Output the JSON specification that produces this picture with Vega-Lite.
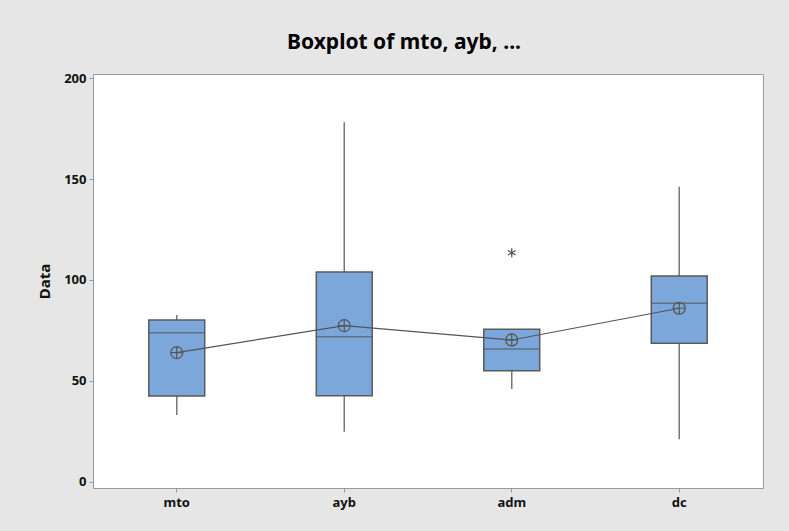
{
  "$schema": "https://vega.github.io/schema/vega-lite/v6.json",
  "width": 670,
  "height": 414,
  "autosize": {"type": "none"},
  "padding": {"left": 93, "top": 74, "right": 26, "bottom": 43},
  "background": "#e6e6e6",
  "config": {
    "font": "Noto Sans",
    "view": {"fill": "white", "stroke": "#9a9a9a", "strokeWidth": 1},
    "axis": {
      "domain": false,
      "grid": false,
      "tickColor": "#9a9a9a",
      "tickSize": 4,
      "labelFont": "Noto Sans",
      "labelFontSize": 13,
      "labelFontWeight": "bold",
      "labelColor": "#111111",
      "titleFont": "Noto Sans",
      "titleFontSize": 15,
      "titleFontWeight": "bold",
      "titleColor": "#111111"
    },
    "axisX": {"labelAngle": 0, "labelPadding": 4},
    "axisY": {"labelPadding": 3, "titlePadding": 11}
  },
  "title": {
    "text": "Boxplot of mto, ayb, ...",
    "font": "Noto Sans",
    "fontSize": 21,
    "fontWeight": "bold",
    "color": "#000000",
    "anchor": "middle",
    "dx": -24,
    "offset": 19
  },
  "datasets": {
    "stats": [
      {"group": "mto", "lo": 33.2, "q1": 42.6, "med": 73.9, "q3": 80.2, "hi": 82.7, "mean": 64.0},
      {"group": "ayb", "lo": 24.9, "q1": 42.7, "med": 71.9, "q3": 104.0, "hi": 178.1, "mean": 77.4},
      {"group": "adm", "lo": 46.0, "q1": 55.0, "med": 65.8, "q3": 75.6, "hi": 75.6, "mean": 70.3},
      {"group": "dc", "lo": 21.1, "q1": 68.7, "med": 88.5, "q3": 102.0, "hi": 146.2, "mean": 86.0}
    ],
    "outliers": [
      {"group": "adm", "value": 113.5}
    ]
  },
  "data": {"name": "stats"},
  "encoding": {
    "x": {
      "field": "group",
      "type": "nominal",
      "sort": ["mto", "ayb", "adm", "dc"],
      "scale": {"type": "band", "paddingInner": 0, "paddingOuter": 0},
      "title": null
    }
  },
  "layer": [
    {
      "mark": {"type": "rule", "color": "#777777", "strokeWidth": 1.5},
      "encoding": {
        "y": {"field": "lo", "type": "quantitative", "title": "Data", "scale": {"domain": [-3, 202], "nice": false, "zero": false}, "axis": {"values": [0, 50, 100, 150, 200]}},
        "y2": {"field": "q1"}
      }
    },
    {
      "mark": {"type": "rule", "color": "#777777", "strokeWidth": 1.5},
      "encoding": {
        "y": {"field": "q3", "type": "quantitative", "title": "Data"},
        "y2": {"field": "hi"}
      }
    },
    {
      "mark": {"type": "bar", "fill": "#7ba7db", "stroke": "#5a5a5a", "strokeWidth": 1.5, "width": {"band": 0.334}},
      "encoding": {
        "y": {"field": "q1", "type": "quantitative", "title": "Data"},
        "y2": {"field": "q3"}
      }
    },
    {
      "mark": {"type": "tick", "color": "#5a5a5a", "thickness": 1.5, "size": 56},
      "encoding": {
        "y": {"field": "med", "type": "quantitative", "title": "Data"}
      }
    },
    {
      "mark": {"type": "line", "color": "#555555", "strokeWidth": 1.2},
      "encoding": {
        "y": {"field": "mean", "type": "quantitative", "title": "Data"}
      }
    },
    {
      "mark": {"type": "point", "shape": "M-1,0A1,1,0,1,1,1,0A1,1,0,1,1,-1,0ZM-1,0L1,0M0,-1L0,1", "filled": false, "stroke": "#555555", "strokeWidth": 1.2, "size": 144, "opacity": 1},
      "encoding": {
        "y": {"field": "mean", "type": "quantitative", "title": "Data"}
      }
    },
    {
      "data": {"name": "outliers"},
      "mark": {"type": "point", "shape": "M0,-1L0,1M-0.87,-0.5L0.87,0.5M-0.87,0.5L0.87,-0.5", "filled": false, "stroke": "#555555", "strokeWidth": 1.3, "size": 81, "opacity": 1},
      "encoding": {
        "y": {"field": "value", "type": "quantitative", "title": "Data"}
      }
    }
  ]
}
